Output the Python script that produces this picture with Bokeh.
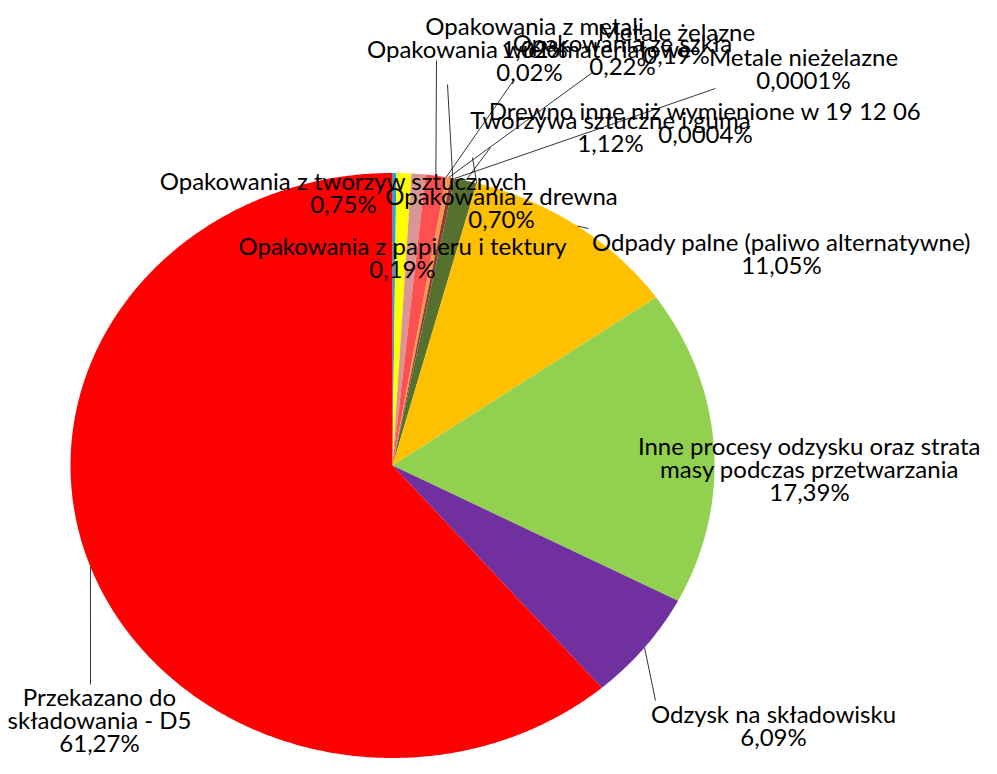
import math
from bokeh.plotting import figure
from bokeh.models import Range1d, ColumnDataSource
from bokeh.core.properties import value
from bokeh.embed import file_html
from bokeh.resources import INLINE

# ---------------- data ----------------
names = [
    "Opakowania z papieru i tektury",
    "Opakowania z tworzyw sztucznych",
    "Opakowania z drewna",
    "Opakowania z metali",
    "Opakowania wielomateriałowe",
    "Opakowania ze szkła",
    "Metale żelazne",
    "Metale nieżelazne",
    "Tworzywa sztuczne i guma",
    "Drewno inne niż wymienione w 19 12 06",
    "Odpady palne (paliwo alternatywne)",
    "Inne procesy odzysku oraz strata\nmasy podczas przetwarzania",
    "Odzysk na składowisku",
    "Przekazano do\nskładowania - D5",
]
values = [0.19, 0.75, 0.70, 1.02, 0.02, 0.22, 0.19, 0.0001, 1.12, 0.0004,
          11.05, 17.39, 6.09, 61.27]
pct_labels = ["0,19%", "0,75%", "0,70%", "1,02%", "0,02%", "0,22%", "0,19%",
              "0,0001%", "1,12%", "0,0004%", "11,05%", "17,39%", "6,09%", "61,27%"]
colors = ["#00B0F0", "#FFFF00", "#D99694", "#FF5050", "#C0504D", "#F79646",
          "#953735", "#8064A2", "#55702F", "#7F7F7F", "#FFC000", "#92D050",
          "#7030A0", "#FF0000"]

# ---------------- layout ----------------
W, H = 981, 758
CX, CY, RX, RY = 392.0, 465.0, 322.0, 292.5
FONT = "Lato"
FSIZE = "24px"
LINE_H = 23
label_pos = [(402, 245), (343, 180), (501, 195), (534, 25), (529, 48),
             (622, 42), (676, 31), (803, 56), (610, 119), (705, 110),
             (781, 241), (809, 445), (773, 713), (99, 696)]
leader_end = {3: (436, 60), 4: (513, 80), 5: (592, 72), 6: (447, 84),
              7: (715, 88), 8: (490, 147), 9: (472, 157), 10: (588, 228),
              12: (655, 700), 13: (90, 684)}

p = figure(width=W, height=H, output_backend="svg", toolbar_location=None,
           x_range=Range1d(0, W), y_range=Range1d(H, 0),
           min_border=0, border_fill_color="white", background_fill_color="white")
p.axis.visible = False
p.grid.visible = False
p.outline_line_color = None

total = sum(values)
xs, ys, mids = [], [], []
cum = 0.0
for v in values:
    a0 = cum / total * 2 * math.pi
    cum += v
    a1 = cum / total * 2 * math.pi
    n = max(2, int((a1 - a0) / (2 * math.pi) * 720) + 2)
    px, py = [CX], [CY]
    for k in range(n + 1):
        a = a0 + (a1 - a0) * k / n
        px.append(CX + RX * math.sin(a))
        py.append(CY - RY * math.cos(a))
    xs.append(px)
    ys.append(py)
    mids.append((a0 + a1) / 2)

p.patches(xs=xs, ys=ys, fill_color=colors, line_color=None)

# leader lines
x0s, y0s, x1s, y1s = [], [], [], []
for i, (lx, ly) in leader_end.items():
    m = mids[i]
    x0s.append(CX + RX * math.sin(m))
    y0s.append(CY - RY * math.cos(m))
    x1s.append(lx)
    y1s.append(ly)
p.segment(x0=x0s, y0=y0s, x1=x1s, y1=y1s, line_color="black", line_width=0.8)

# labels
tx, ty, tt = [], [], []
for i, (nm, pc) in enumerate(zip(names, pct_labels)):
    lines = nm.split("\n") + [pc]
    lx, ly = label_pos[i]
    for j, ln in enumerate(lines):
        tx.append(lx)
        ty.append(ly + j * LINE_H)
        tt.append(ln)
src = ColumnDataSource(dict(x=tx, y=ty, t=tt))
p.text(x="x", y="y", text="t", source=src, text_font=value(FONT),
       text_font_size=FSIZE, text_align="center", text_baseline="middle",
       text_color="black")

open("out.html", "w").write(file_html(p, INLINE))
